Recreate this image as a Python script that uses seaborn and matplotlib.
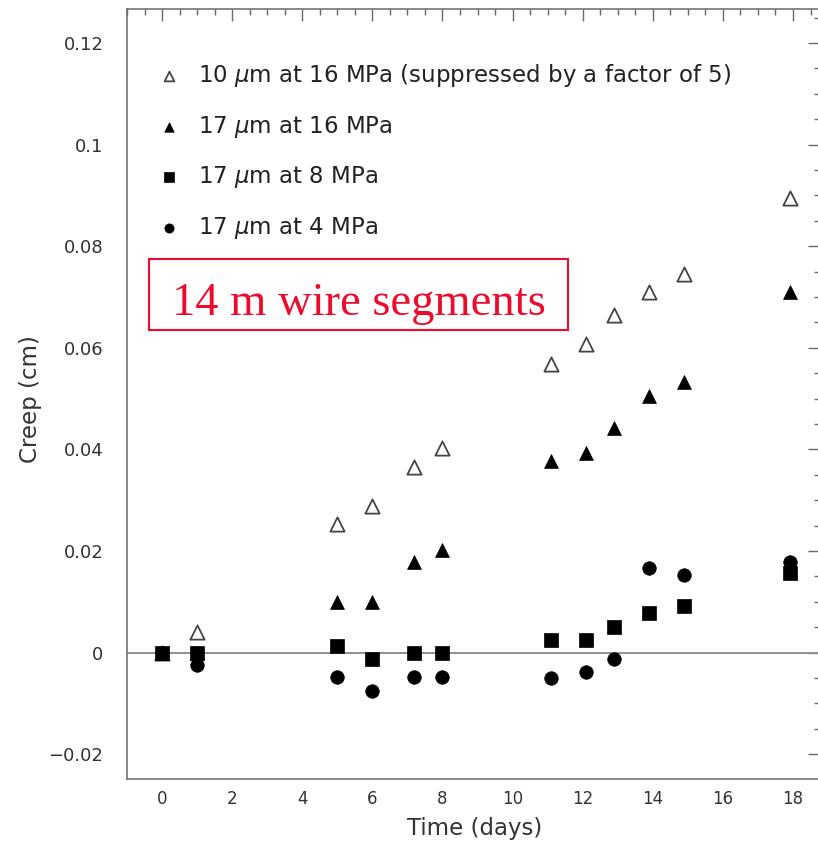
import matplotlib
matplotlib.use("Agg")
import matplotlib.pyplot as plt
from matplotlib.patches import Rectangle
from matplotlib.ticker import MultipleLocator, FuncFormatter
import seaborn as sns

# Measurement times (days)
days = [0, 1, 5, 6, 7.2, 8, 11.1, 12.1, 12.9, 13.9, 14.9, 17.9]

# Creep (cm) for each wire / stress combination
creep_10um_16mpa = [0, 0.004, 0.0253, 0.0288, 0.0366, 0.0403, 0.0568, 0.0608, 0.0665, 0.0710, 0.0746, 0.0895]
creep_17um_16mpa = [0, 0, 0.0100, 0.0100, 0.0178, 0.0201, 0.0377, 0.0393, 0.0443, 0.0506, 0.0532, 0.0709]
creep_17um_8mpa = [0, 0, 0.0012, -0.0013, 0, 0, 0.0025, 0.0025, 0.0051, 0.0078, 0.0091, 0.0157]
creep_17um_4mpa = [0, -0.0024, -0.0049, -0.0075, -0.0049, -0.0049, -0.0050, -0.0039, -0.0013, 0.0166, 0.0153, 0.0179]

series_labels = [
    r"10 $\mu$m at 16 MPa (suppressed by a factor of 5)",
    r"17 $\mu$m at 16 MPa",
    r"17 $\mu$m at 8 MPa",
    r"17 $\mu$m at 4 MPa",
]
x_label = "Time (days)"
y_label = "Creep (cm)"
note_text = "14 m wire segments"

sns.set_style("white")
plt.rcParams["font.family"] = ["DejaVu Sans"]
plt.rcParams["mathtext.fontset"] = "dejavusans"

W, H = 818, 842
fig = plt.figure(figsize=(W / 100, H / 100), dpi=100)
ax = fig.add_axes([127 / W, 63 / H, 693 / W, 770 / H])

axis_gray = "#6a6a6a"
text_gray = "#333333"

ax.axhline(0, color="#909090", lw=1.4, zorder=1)

sns.scatterplot(x=days, y=creep_10um_16mpa, marker="^", s=105, color="white",
                edgecolor="#444444", linewidth=1.3, ax=ax, label=series_labels[0], zorder=3)
sns.scatterplot(x=days, y=creep_17um_16mpa, marker="^", s=100, color="black",
                edgecolor="black", linewidth=0.5, ax=ax, label=series_labels[1], zorder=3)
sns.scatterplot(x=days, y=creep_17um_4mpa, marker="o", s=95, color="black",
                edgecolor="black", linewidth=0.5, ax=ax, label=series_labels[3], zorder=3)
sns.scatterplot(x=days, y=creep_17um_8mpa, marker="s", s=95, color="black",
                edgecolor="black", linewidth=0.5, ax=ax, label=series_labels[2], zorder=4)

ax.set_xlim(-1, 18.77)
ax.set_ylim(-0.0249, 0.1267)

ax.xaxis.set_major_locator(MultipleLocator(2))
ax.xaxis.set_minor_locator(MultipleLocator(0.5))
ax.yaxis.set_major_locator(MultipleLocator(0.02))
ax.yaxis.set_minor_locator(MultipleLocator(0.005))
ax.yaxis.set_major_formatter(FuncFormatter(
    lambda v, p: "0" if abs(v) < 1e-9 else ("%g" % v).replace("-", "\u2212")))

ax.tick_params(which="both", direction="in", top=True, right=True, color=axis_gray, width=1.0)
ax.tick_params(which="major", length=8.6)
ax.tick_params(which="minor", length=4.3)
ax.tick_params(axis="x", which="major", labelsize=12, labelcolor=text_gray, pad=8)
ax.tick_params(axis="y", which="major", labelsize=13, labelcolor=text_gray, pad=17)

for sp in ax.spines.values():
    sp.set_color(axis_gray)
    sp.set_linewidth(1.1)

ax.set_xlabel("")
ax.set_ylabel("")
fig.text(475 / W, 1 - 828 / H, x_label, ha="center", va="center", fontsize=16.5, color=text_gray)
fig.text(31 / W, 1 - 399 / H, y_label, ha="center", va="center", rotation=90, fontsize=16.5, color=text_gray)

handles, labs = ax.get_legend_handles_labels()
order = [labs.index(l) for l in series_labels]
leg_fs = 16.5
ax.legend([handles[i] for i in order], [labs[i] for i in order],
          loc="upper left", bbox_to_anchor=(161 / W, 1 - 62 / H), bbox_transform=fig.transFigure,
          frameon=False, fontsize=leg_fs, markerscale=0.68, handlelength=0.7, handletextpad=0.9,
          labelspacing=1.08, borderpad=0, borderaxespad=0, labelcolor="#222222")

red = "#ee0a2c"
fig.patches.append(Rectangle((149.3 / W, 1 - 330 / H), 418.4 / W, 70.7 / H,
                             transform=fig.transFigure, fill=True, facecolor="white",
                             edgecolor=red, linewidth=1.5, zorder=5))
fig.text(359 / W, 1 - 315 / H, note_text, ha="center", va="baseline",
         fontsize=33.5, family="Liberation Serif", color=red, zorder=6)

fig.savefig("out.png", dpi=100, facecolor="white")
